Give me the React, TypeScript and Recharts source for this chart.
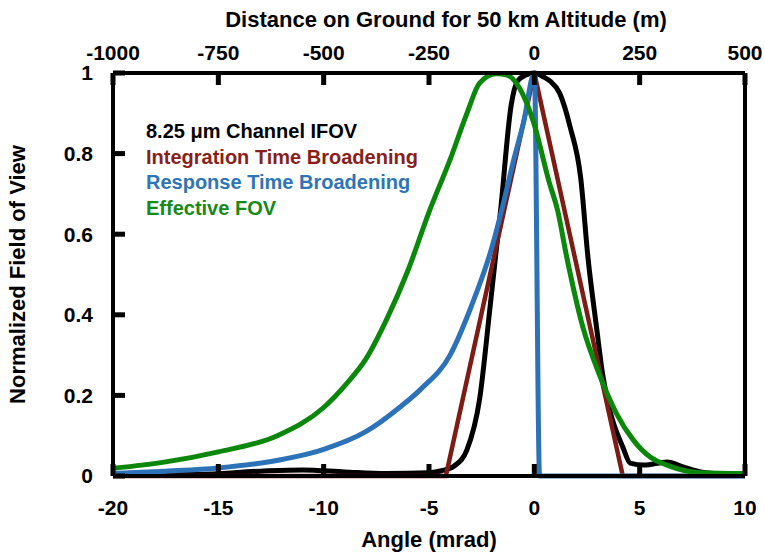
import { LineChart, Line, XAxis, YAxis, Legend, Label } from 'recharts';

// 8.25 um channel IFOV (black)
const ifovAngle = [-20, -16, -13, -11, -9, -7, -5, -4.4, -3.8, -3.2, -2.6, -2.1, -1.6, -1.1, -0.8, -0.4, 0, 0.45, 0.75, 1.2, 1.7, 2.2, 2.55, 2.95, 3.25, 3.6, 4.2, 4.55, 5.2, 6.3, 7.1, 7.9, 9, 10];
const ifovValue = [0.003, 0.004, 0.012, 0.015, 0.01, 0.006, 0.008, 0.013, 0.025, 0.065, 0.19, 0.42, 0.66, 0.92, 0.98, 0.995, 1.0, 0.99, 0.98, 0.95, 0.866, 0.74, 0.54, 0.37, 0.25, 0.16, 0.072, 0.032, 0.027, 0.035, 0.022, 0.01, 0.005, 0.004];

// integration time broadening (red)
const integAngle = [-20, -4.2, 0, 4.2, 10];
const integValue = [0, 0, 1, 0, 0];

// response time broadening (blue)
const respAngle = [-20, -17.5, -15, -12.5, -10, -8, -6.4, -5.4, -4, -3, -2, -1.5, -1, -0.5, 0, 0.25, 10];
const respValue = [0.006, 0.012, 0.02, 0.036, 0.066, 0.11, 0.17, 0.215, 0.3, 0.42, 0.57, 0.67, 0.78, 0.88, 1, 0, 0];

// effective FOV (green)
const effAngle = [-20, -17.5, -15, -12.2, -10, -8.9, -8, -7, -6, -5, -4, -3.2, -2.6, -1.8, -1.3, -0.7, -0.05, 0.7, 1.1, 1.55, 2.3, 3.1, 3.9, 4.7, 5.5, 6.3, 7.9, 10];
const effValue = [0.019, 0.035, 0.06, 0.1, 0.17, 0.23, 0.29, 0.39, 0.51, 0.655, 0.785, 0.9, 0.975, 0.998, 0.995, 0.962, 0.88, 0.73, 0.66, 0.54, 0.37, 0.25, 0.155, 0.089, 0.047, 0.027, 0.008, 0.006];

const angleTicks = [-20, -15, -10, -5, 0, 5, 10];
const groundTicks = [-1000, -750, -500, -250, 0, 250, 500];
const fovTicks = [0, 0.2, 0.4, 0.6, 0.8, 1];
const fovInnerTicks = [0.2, 0.4, 0.6, 0.8];

const seriesNames = ['8.25 \u03bcm Channel IFOV', 'Integration Time Broadening', 'Response Time Broadening', 'Effective FOV'];
const lineColors = ['#000000', '#7d1c15', '#2c72b8', '#0b870b'];
const textColors = ['#000000', '#8a1f1a', '#2e75b6', '#168a16'];

const toPoints = (xs: number[], ys: number[]) => xs.map((x, i) => ({ x, y: ys[i] }));

const ifovData = toPoints(ifovAngle, ifovValue);
const integData = toPoints(integAngle, integValue);
const respData = toPoints(respAngle, respValue);
const effData = toPoints(effAngle, effValue);
// empty anchor so the top (metres) axis has an item bound to it
const groundAnchor = groundTicks.map((m) => ({ x: m }));

const FONT = '"Liberation Sans", Arial, sans-serif';
const tickStyle = { fill: '#000', fontSize: 21, fontWeight: 700, fontFamily: FONT };
const titleStyle = { fill: '#000', fontSize: 22, fontWeight: 700, fontFamily: FONT };
const axisLine = { stroke: '#000', strokeWidth: 4 };
const tickLine = { stroke: '#000', strokeWidth: 5 };

function LegendBlock() {
  return (
    <div style={{ fontFamily: FONT, fontWeight: 700, fontSize: 20, lineHeight: '25.5px', whiteSpace: 'nowrap' }}>
      {seriesNames.map((name, i) => (
        <div key={name} style={{ color: textColors[i] }}>{name}</div>
      ))}
    </div>
  );
}

export default function App() {
  return (
    <div style={{ position: 'absolute', left: 0, top: 0 }}>
      <LineChart width={765} height={559} margin={{ top: 0, right: 0, bottom: 0, left: 0 }}>
        <XAxis
          xAxisId="bottom"
          type="number"
          dataKey="x"
          domain={[-20, 10]}
          ticks={angleTicks}
          interval={0}
          allowDataOverflow
          height={83}
          tickSize={-12}
          tickMargin={36}
          tick={tickStyle}
          axisLine={axisLine}
          tickLine={tickLine}
        >
          <Label value="Angle (mrad)" position="insideBottom" offset={12} style={titleStyle} />
        </XAxis>
        <XAxis
          xAxisId="top"
          orientation="top"
          type="number"
          dataKey="x"
          domain={[-1000, 500]}
          ticks={groundTicks}
          interval={0}
          allowDataOverflow
          height={73}
          tickSize={-12}
          tickMargin={25}
          tick={tickStyle}
          axisLine={axisLine}
          tickLine={tickLine}
        >
          <Label value="Distance on Ground for 50 km Altitude (m)" position="insideTop" offset={11} dx={17} style={titleStyle} />
        </XAxis>
        <YAxis
          yAxisId="left"
          type="number"
          domain={[0, 1]}
          ticks={fovTicks}
          interval={0}
          width={113}
          tickSize={-12}
          tickMargin={32}
          tick={tickStyle}
          axisLine={axisLine}
          tickLine={tickLine}
        >
          <Label value="Normalized Field of View" angle={-90} position="insideLeft" offset={17} style={{ ...titleStyle, textAnchor: 'middle' }} />
        </YAxis>
        <YAxis
          yAxisId="right"
          orientation="right"
          type="number"
          domain={[0, 1]}
          ticks={fovInnerTicks}
          interval={0}
          width={20}
          tickSize={-12}
          tick={false}
          axisLine={axisLine}
          tickLine={tickLine}
        />
        <Legend
          layout="vertical"
          verticalAlign="middle"
          align="center"
          content={LegendBlock}
          wrapperStyle={{ left: 146, top: 119, width: 'auto', height: 'auto' }}
        />
        <Line data={groundAnchor} dataKey="y" xAxisId="top" yAxisId="left" stroke="none" legendType="none" dot={false} activeDot={false} isAnimationActive={false} />
        <Line data={ifovData} dataKey="y" name={seriesNames[0]} xAxisId="bottom" yAxisId="left" type="monotone" stroke={lineColors[0]} strokeWidth={5} dot={false} activeDot={false} isAnimationActive={false} />
        <Line data={integData} dataKey="y" name={seriesNames[1]} xAxisId="bottom" yAxisId="left" type="linear" stroke={lineColors[1]} strokeWidth={4.5} dot={false} activeDot={false} isAnimationActive={false} />
        <Line data={respData} dataKey="y" name={seriesNames[2]} xAxisId="bottom" yAxisId="left" type="monotone" stroke={lineColors[2]} strokeWidth={5} dot={false} activeDot={false} isAnimationActive={false} />
        <Line data={effData} dataKey="y" name={seriesNames[3]} xAxisId="bottom" yAxisId="left" type="monotone" stroke={lineColors[3]} strokeWidth={5} dot={false} activeDot={false} isAnimationActive={false} />
      </LineChart>
    </div>
  );
}
